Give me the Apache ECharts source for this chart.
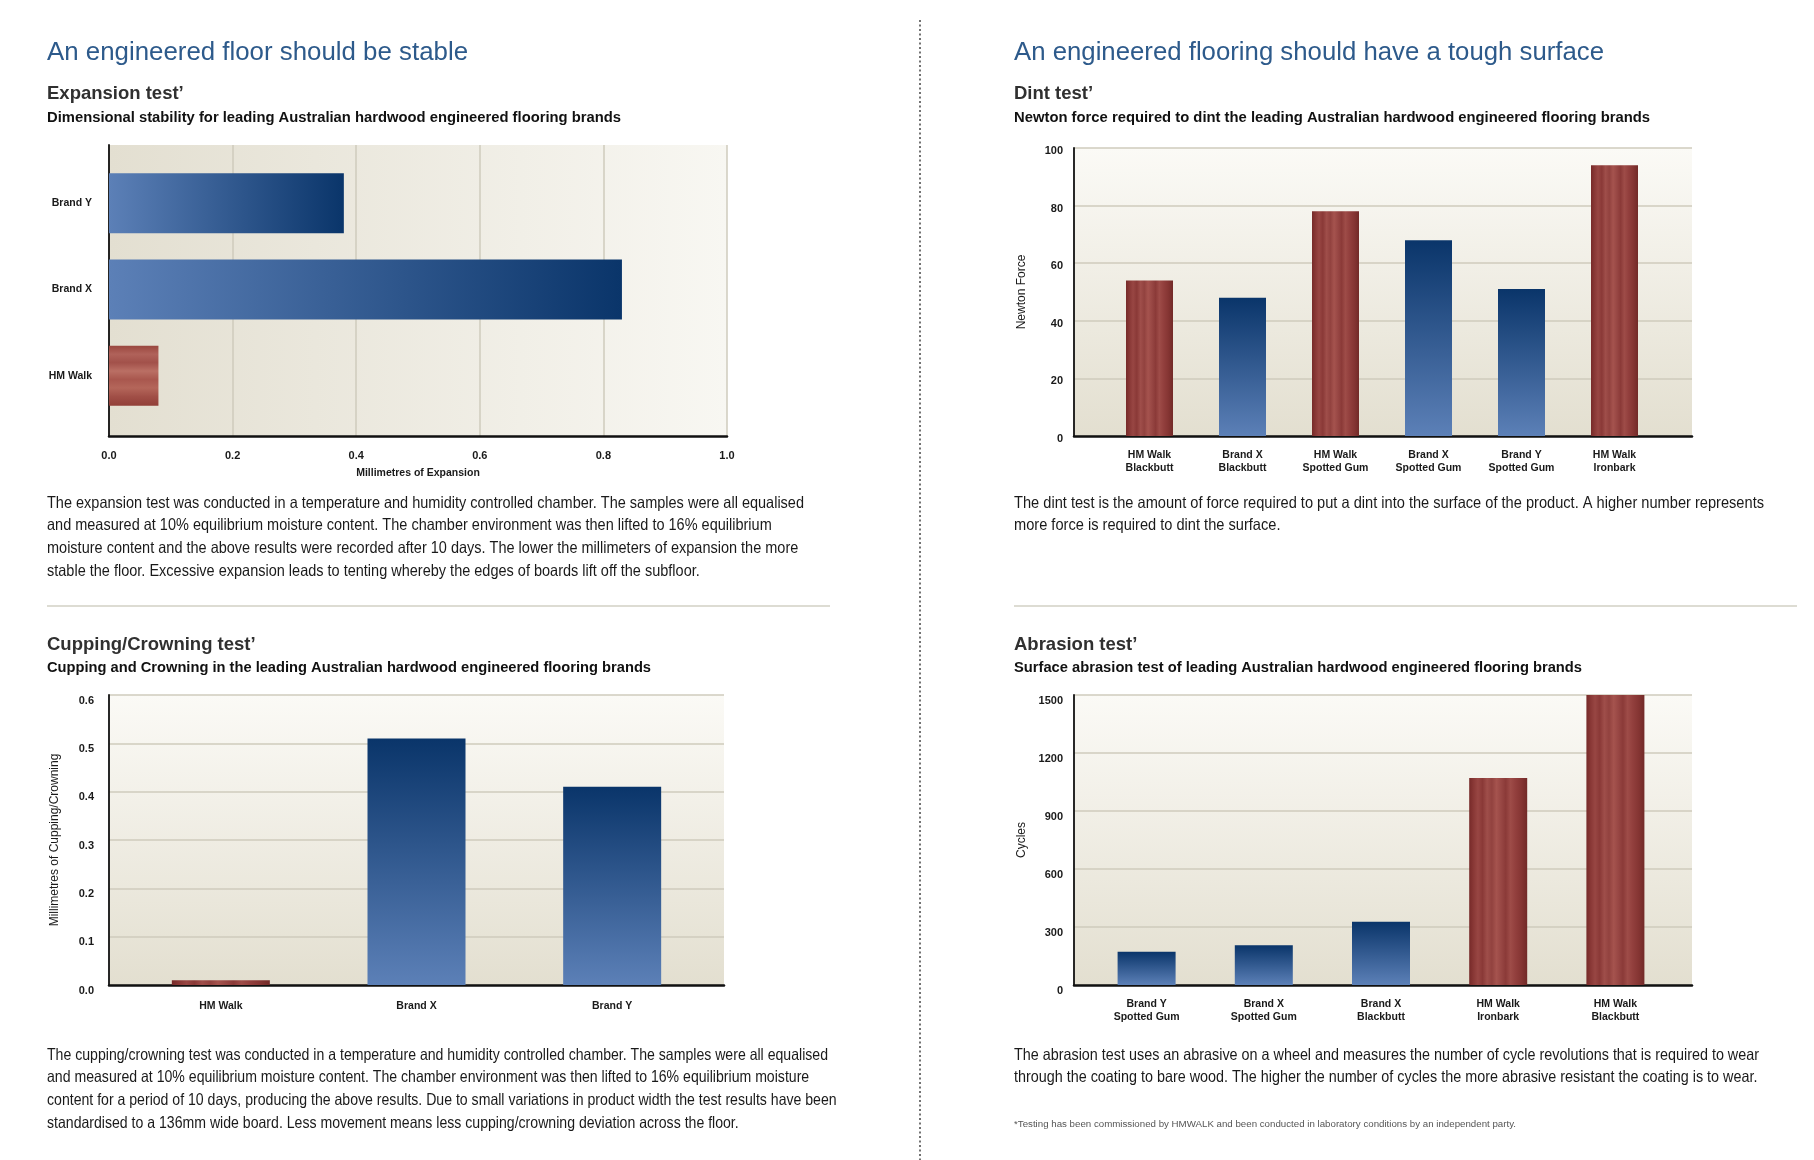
<!DOCTYPE html>
<html>
<head>
<meta charset="utf-8">
<script src="https://cdn.jsdelivr.net/npm/echarts@6.0.0/dist/echarts.min.js"></script>
<style>
html,body{margin:0;padding:0;background:#ffffff;}
#chart{width:1814px;height:1160px;}
</style>
</head>
<body>
<div id="chart"></div>
<script>
// ---------------- DATA ----------------
const expansionCategories = ['HM Walk', 'Brand X', 'Brand Y'];           // bottom to top
const expansionValues = [0.08, 0.83, 0.38];                               // millimetres
const expansionTicks = { min: 0, max: 1, interval: 0.2 };

const dintCategories = ['HM Walk\nBlackbutt', 'Brand X\nBlackbutt', 'HM Walk\nSpotted Gum',
                        'Brand X\nSpotted Gum', 'Brand Y\nSpotted Gum', 'HM Walk\nIronbark'];
const dintValues = [54, 48, 78, 68, 51, 94];                              // Newton force
const dintTicks = { min: 0, max: 100, interval: 20 };

const cuppingCategories = ['HM Walk', 'Brand X', 'Brand Y'];
const cuppingValues = [0.01, 0.51, 0.41];                                 // millimetres
const cuppingTicks = { min: 0, max: 0.6, interval: 0.1 };

const abrasionCategories = ['Brand Y\nSpotted Gum', 'Brand X\nSpotted Gum', 'Brand X\nBlackbutt',
                            'HM Walk\nIronbark', 'HM Walk\nBlackbutt'];
const abrasionValues = [172, 205, 327, 1071, 1500];                       // cycles
const abrasionTicks = { min: 0, max: 1500, interval: 300 };

const leftTitle = 'An engineered floor should be stable';
const rightTitle = 'An engineered flooring should have a tough surface';
const expansionHeading = 'Expansion test\u2019';
const expansionSub = 'Dimensional stability for leading Australian hardwood engineered flooring brands';
const dintHeading = 'Dint test\u2019';
const dintSub = 'Newton force required to dint the leading Australian hardwood engineered flooring brands';
const cuppingHeading = 'Cupping/Crowning test\u2019';
const cuppingSub = 'Cupping and Crowning in the leading Australian hardwood engineered flooring brands';
const abrasionHeading = 'Abrasion test\u2019';
const abrasionSub = 'Surface abrasion test of leading Australian hardwood engineered flooring brands';

const expansionText = [
  'The expansion test was conducted in a temperature and humidity controlled chamber. The samples were all equalised',
  'and measured at 10% equilibrium moisture content. The chamber environment was then lifted to 16% equilibrium',
  'moisture content and the above results were recorded after 10 days. The lower the millimeters of expansion the more',
  'stable the floor. Excessive expansion leads to tenting whereby the edges of boards lift off the subfloor.'
];
const cuppingText = [
  'The cupping/crowning test was conducted in a temperature and humidity controlled chamber. The samples were all equalised',
  'and measured at 10% equilibrium moisture content. The chamber environment was then lifted to 16% equilibrium moisture',
  'content for a period of 10 days, producing the above results. Due to small variations in product width the test results have been',
  'standardised to a 136mm wide board. Less movement means less cupping/crowning deviation across the floor.'
];
const dintText = [
  'The dint test is the amount of force required to put a dint into the surface of the product. A higher number represents',
  'more force is required to dint the surface.'
];
const abrasionText = [
  'The abrasion test uses an abrasive on a wheel and measures the number of cycle revolutions that is required to wear',
  'through the coating to bare wood. The higher the number of cycles the more abrasive resistant the coating is to wear.'
];
const footnote = '*Testing has been commissioned by HMWALK and been conducted in laboratory conditions by an independent party.';

// ---------------- STYLE ----------------
const FONT = '"Liberation Sans", Arial, sans-serif';
const LG = echarts.graphic.LinearGradient;
const woodStopsV = [[0,'#762a29'],[0.07,'#883735'],[0.15,'#984643'],[0.23,'#8a3937'],[0.31,'#9f4e4a'],[0.39,'#92423f'],
  [0.47,'#a5534e'],[0.55,'#984744'],[0.63,'#8b3a38'],[0.71,'#9e4c48'],[0.8,'#923f3d'],[0.9,'#853533'],[1,'#722a28']];
const woodStopsH = [[0,'#9a473f'],[0.14,'#b0625a'],[0.28,'#a2514a'],[0.42,'#ba6f64'],[0.56,'#a9574e'],[0.7,'#b4665a'],
  [0.85,'#a04e46'],[1,'#913f38']];
function grad(x2, y2, stops) {
  return new LG(0, 0, x2, y2, stops.map(s => ({ offset: s[0], color: s[1] })));
}
const isWalk = c => c.indexOf('HM Walk') === 0;
const blueV = () => grad(0, 1, [[0,'#0a356a'],[1,'#5c80b7']]);
const blueH = () => grad(1, 0, [[0,'#5c80b7'],[1,'#0a356a']]);
const woodV = () => grad(1, 0, woodStopsV);
const woodH = () => grad(0, 1, woodStopsH);
const bgV = () => grad(0, 1, [[0,'#fbfaf6'],[1,'#e3dfd0']]);
const bgH = () => grad(1, 0, [[0,'#e3dfd1'],[1,'#f8f7f2']]);

function items(cats, vals, horizontal) {
  return vals.map((v, i) => ({
    value: v,
    itemStyle: { color: isWalk(cats[i]) ? (horizontal ? woodH() : woodV()) : (horizontal ? blueH() : blueV()) }
  }));
}

const tickLabel = { color: '#1a1a1a', fontFamily: FONT, fontWeight: 'bold', fontSize: 11 };
const catLabel = { color: '#1a1a1a', fontFamily: FONT, fontWeight: 'bold', fontSize: 10.5, lineHeight: 13.5, interval: 0 };
const nameStyle = { color: '#1a1a1a', fontFamily: FONT, fontSize: 12 };
const splitV = { show: true, lineStyle: { color: '#cfcbbd', width: 1.5 } };
const blackLine = w => ({ show: true, onZero: false, lineStyle: { color: '#111', width: w } });
const hidden = { show: false };

// measure helper for fitting text widths to the layout
const mctx = document.createElement('canvas').getContext('2d');
function measure(t, size, weight) {
  mctx.font = (weight || 'normal') + ' ' + size + 'px ' + FONT;
  return mctx.measureText(t).width;
}
function textEl(lines, x, yMid, size, lh, weight, color, targetW) {
  const sx = targetW ? targetW / measure(lines[0], size, weight) : 1;
  return {
    type: 'text', x: x, y: yMid - lh / 2, scaleX: sx, silent: true,
    style: { text: lines.join('\n'), fill: color, fontSize: size, fontWeight: weight || 'normal',
             fontFamily: FONT, lineHeight: lh, align: 'left', verticalAlign: 'top' }
  };
}

const LX = 47, RX = 1014;
const TITLE_C = '#2d5a8b';
const HEAD_C = '#303030';

const graphics = [
  textEl([leftTitle], LX, 53, 26, 32, 'normal', TITLE_C, 421),
  textEl([rightTitle], RX, 53, 26, 32, 'normal', TITLE_C, 590),
  textEl([expansionHeading], LX, 94, 18.5, 24, 'bold', HEAD_C, null),
  textEl([dintHeading], RX, 94, 18.5, 24, 'bold', HEAD_C, null),
  textEl([expansionSub], LX, 118, 14, 18, 'bold', '#111', 574),
  textEl([dintSub], RX, 118, 14, 18, 'bold', '#111', 636),
  textEl(expansionText, LX, 503, 16.5, 22.7, 'normal', '#1a1a1a', 757),
  textEl(dintText, RX, 503, 16.5, 22.7, 'normal', '#1a1a1a', 750),
  textEl([cuppingHeading], LX, 644.5, 18.5, 24, 'bold', HEAD_C, null),
  textEl([abrasionHeading], RX, 644.5, 18.5, 24, 'bold', HEAD_C, null),
  textEl([cuppingSub], LX, 668, 14, 18, 'bold', '#111', 604),
  textEl([abrasionSub], RX, 668, 14, 18, 'bold', '#111', 568),
  textEl(cuppingText, LX, 1055, 16.5, 22.7, 'normal', '#1a1a1a', 781),
  textEl(abrasionText, RX, 1055, 16.5, 22.7, 'normal', '#1a1a1a', 745),
  textEl([footnote], RX, 1125, 8.5, 10, 'normal', '#555', 502),
  { type: 'line', silent: true, shape: { x1: LX, y1: 606, x2: 830, y2: 606 }, style: { stroke: '#dddcd3', lineWidth: 2 } },
  { type: 'line', silent: true, shape: { x1: RX, y1: 606, x2: 1797, y2: 606 }, style: { stroke: '#dddcd3', lineWidth: 2 } },
  { type: 'line', silent: true, shape: { x1: 920, y1: 20, x2: 920, y2: 1160 }, style: { stroke: '#444', lineWidth: 1.5, lineDash: [2, 2.5] } }
];

const option = {
  backgroundColor: '#ffffff',
  animation: false,
  textStyle: { fontFamily: FONT },
  grid: [
    { left: 109, top: 145, width: 618, height: 291, show: true, backgroundColor: bgH(), borderWidth: 0, outerBoundsMode: 'none' },
    { left: 109, top: 160, width: 618, height: 259, outerBoundsMode: 'none' },
    { left: 1074, top: 148, width: 618, height: 288, show: true, backgroundColor: bgV(), borderWidth: 0, outerBoundsMode: 'none' },
    { left: 1103, top: 148, width: 558, height: 288, outerBoundsMode: 'none' },
    { left: 109, top: 695, width: 615, height: 290, show: true, backgroundColor: bgV(), borderWidth: 0, outerBoundsMode: 'none' },
    { left: 123, top: 695, width: 587, height: 290, outerBoundsMode: 'none' },
    { left: 1074, top: 695, width: 618, height: 290, show: true, backgroundColor: bgV(), borderWidth: 0, outerBoundsMode: 'none' },
    { left: 1088, top: 695, width: 586, height: 290, outerBoundsMode: 'none' }
  ],
  xAxis: [
    { gridIndex: 0, type: 'value', min: expansionTicks.min, max: expansionTicks.max, interval: expansionTicks.interval,
      axisLine: blackLine(2.5), axisTick: hidden, splitLine: splitV,
      axisLabel: Object.assign({ margin: 14, formatter: v => v.toFixed(1) }, tickLabel),
      name: 'Millimetres of Expansion', nameLocation: 'middle', nameGap: 32,
      nameTextStyle: { color: '#1a1a1a', fontFamily: FONT, fontWeight: 'bold', fontSize: 10.5 } },
    { gridIndex: 1, type: 'value', min: expansionTicks.min, max: expansionTicks.max, show: false },
    { gridIndex: 2, type: 'value', min: 0, max: 1, axisLine: blackLine(2.5), axisTick: hidden, axisLabel: hidden, splitLine: hidden },
    { gridIndex: 3, type: 'category', data: dintCategories, axisLine: hidden, axisTick: hidden,
      axisLabel: Object.assign({ margin: 12 }, catLabel) },
    { gridIndex: 4, type: 'value', min: 0, max: 1, axisLine: blackLine(2.5), axisTick: hidden, axisLabel: hidden, splitLine: hidden },
    { gridIndex: 5, type: 'category', data: cuppingCategories, axisLine: hidden, axisTick: hidden,
      axisLabel: Object.assign({ margin: 14 }, catLabel) },
    { gridIndex: 6, type: 'value', min: 0, max: 1, axisLine: blackLine(2.5), axisTick: hidden, axisLabel: hidden, splitLine: hidden },
    { gridIndex: 7, type: 'category', data: abrasionCategories, axisLine: hidden, axisTick: hidden,
      axisLabel: Object.assign({ margin: 12 }, catLabel) }
  ],
  yAxis: [
    { gridIndex: 0, type: 'value', min: 0, max: 1, axisLine: blackLine(1.8), axisTick: hidden, axisLabel: hidden, splitLine: hidden },
    { gridIndex: 1, type: 'category', data: expansionCategories, axisLine: hidden, axisTick: hidden,
      axisLabel: Object.assign({ margin: 17 }, catLabel) },
    { gridIndex: 2, type: 'value', min: dintTicks.min, max: dintTicks.max, interval: dintTicks.interval,
      axisLine: blackLine(1.8), axisTick: hidden, splitLine: splitV,
      axisLabel: Object.assign({ margin: 11, verticalAlign: 'top', lineHeight: 6 }, tickLabel),
      name: 'Newton Force', nameLocation: 'middle', nameGap: 46, nameTextStyle: nameStyle },
    { gridIndex: 3, type: 'value', min: dintTicks.min, max: dintTicks.max, show: false },
    { gridIndex: 4, type: 'value', min: cuppingTicks.min, max: cuppingTicks.max, interval: cuppingTicks.interval,
      axisLine: blackLine(1.8), axisTick: hidden, splitLine: splitV,
      axisLabel: Object.assign({ margin: 15, verticalAlign: 'top', formatter: v => v.toFixed(1) }, tickLabel),
      name: 'Millimetres of Cupping/Crowning', nameLocation: 'middle', nameGap: 48, nameTextStyle: nameStyle },
    { gridIndex: 5, type: 'value', min: cuppingTicks.min, max: cuppingTicks.max, show: false },
    { gridIndex: 6, type: 'value', min: abrasionTicks.min, max: abrasionTicks.max, interval: abrasionTicks.interval,
      axisLine: blackLine(1.8), axisTick: hidden, splitLine: splitV,
      axisLabel: Object.assign({ margin: 11, verticalAlign: 'top', formatter: v => String(v) }, tickLabel),
      name: 'Cycles', nameLocation: 'middle', nameGap: 46, nameTextStyle: nameStyle },
    { gridIndex: 7, type: 'value', min: abrasionTicks.min, max: abrasionTicks.max, show: false }
  ],
  series: [
    { type: 'bar', xAxisIndex: 1, yAxisIndex: 1, barWidth: 60, silent: true,
      data: items(expansionCategories, expansionValues, true) },
    { type: 'bar', xAxisIndex: 3, yAxisIndex: 3, barWidth: 47, silent: true,
      data: items(dintCategories, dintValues, false) },
    { type: 'bar', xAxisIndex: 5, yAxisIndex: 5, barWidth: 98, silent: true,
      data: items(cuppingCategories, cuppingValues, false) },
    { type: 'bar', xAxisIndex: 7, yAxisIndex: 7, barWidth: 58, silent: true,
      data: items(abrasionCategories, abrasionValues, false) }
  ],
  graphic: { elements: graphics }
};

const chart = echarts.init(document.getElementById('chart'), null, { renderer: 'canvas' });
chart.setOption(option);
</script>
</body>
</html>
